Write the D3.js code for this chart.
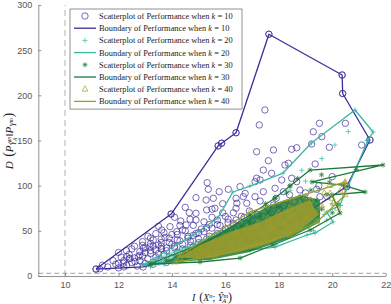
<!DOCTYPE html>
<head>
<meta charset="utf-8" />
<script src="https://d3js.org/d3.v7.min.js"></script>
<style>
  body { margin: 0; background: #fff; }
  text { font-family: "Liberation Sans", Arial, sans-serif; }
  .axis text { fill: #555; font-size: 9px; }
  .axis path, .axis line { stroke: #777; stroke-width: 0.8; }
  .tex { font-family: "Liberation Serif", "DejaVu Serif", serif; fill: #222; }
</style>
</head>
<body>
<div id="chart"></div>
<script>
// values (x = I, y = D)
const xTicks = [10, 12, 14, 16, 18, 20, 22];
const yTicks = [0, 50, 100, 150, 200, 250, 300];
const kValues = [10, 20, 30, 40];

const scatter10 = [
  [11.16,7.7],[13.97,68.6],[15.73,144],[15.86,147],[16.4,158.6],[17.63,267.6],[20.37,222.5],[20.39,202],[21.41,150.6],[20.54,98.9],[18.72,64.2],
  [17.48,183.8],[17.27,167.2],[19.52,169],[20.49,169],[19.29,159.7],[19.61,154.2],[19.23,146.1],[19.89,142.5],[21.1,145],[17.17,137.6],[17.8,139.5],
  [18.48,140.3],[18.67,142],[17.61,127.6],[18.23,122.9],[18.36,124.8],[19.36,124],[17.42,117.3],[17.73,113.7],[17.17,108.2],[18.48,108.2],[18.11,106.3],
  [18.67,104.4],[16.55,98.9],[17.11,104.4],[17.3,106.3],[17.86,97.1],[19.42,96],[18.79,95.2],[16.74,91.5],[17.42,93.3],[18.17,93.3],[18.98,84.1],
  [19.54,87.8],[16.67,87.8],[17.11,87.8],[16.43,80.5],[16.8,80.5],[17.8,78.6],[19.42,69.4],
  [15.32,103.3],[15.36,96],[15.77,93.3],[16.11,96],[14.9,86.7],[15.28,84.1],[15.55,86],[14.65,70.1],[14.9,69.4],[14.33,60.9],[14.53,56.5],[14.68,62.8],
  [15.3,73.1],[15.61,75],[13.62,50.9],[13.93,54.6],[14.18,49],[13.3,39.9],[13.74,42.8],[13.18,32.4],[12.93,30.7],[12.74,21.4],[12.43,19.6],[12.18,14.1],
  [12.62,15.8],[12.31,21.4],[13.49,34.3],
  [11.6,10],[11.9,13],[12.0,9],[12.2,17],[12.3,12],[12.4,24],[12.5,15],[12.6,20],[12.7,11],[12.8,27],[12.8,17],[12.9,22],[13.0,14],[13.0,31],[13.1,19],
  [13.2,25],[13.2,36],[13.3,13],[13.4,29],[13.4,21],[13.5,17],[13.6,33],[13.6,41],[13.7,24],[13.8,28],[13.8,15],[13.9,37],[14.0,20],[14.0,46],[14.1,31],
  [14.2,26],[14.2,40],[14.3,18],[14.4,35],[14.4,51],[14.5,29],[14.6,44],[14.6,22],[14.7,38],[14.8,56],[14.8,32],[14.9,26],[15.0,48],[15.0,41],[15.1,35],
  [15.2,60],[15.2,29],[15.3,53],[15.4,44],[15.4,38],[15.5,65],[15.6,33],[15.7,57],[15.7,47],[15.8,40],[15.9,70],[16.0,52],[16.0,36],[16.1,63],[16.2,44],
  [16.3,58],[16.4,75],[16.5,49],[16.6,66],[16.7,40],[16.8,55],[16.9,72],[17.0,61],[17.1,47],[17.2,68],[17.3,83],[17.4,57],[17.6,75],[17.7,64],[17.9,86],
  [18.0,70],[18.2,78],[18.4,90],[18.6,82],[18.8,74],[19.0,92],[19.2,80],[19.5,100],[19.8,88],[20.0,110],[11.3,8],[12.1,21],[12.9,34],[13.7,48],[14.3,56],
  [14.9,62],[15.5,74],[15.9,80],[16.4,86],[12.0,26],[12.5,30],[13.1,44],[13.5,55],[14.1,65],[14.5,76],
  [12.3,28],[12.6,33],[12.9,38],[13.2,42],[13.4,47],[13.0,26],[13.3,33],[13.6,37],[13.9,42],[14.2,46],[14.5,50],[14.8,45],[15.1,52],[15.4,57],[15.7,62],
  [16.0,66],[16.3,70],[14.0,35],[14.3,39],[14.6,42],[14.9,47],[15.2,49],[15.5,53],[15.8,56],[16.1,59],[16.4,62],[16.7,65],[13.5,25],[13.8,31],[14.1,33],
  [14.4,30],[14.7,34],[15.0,37],[15.3,41],[15.6,44],[15.9,47],[16.2,51],[16.5,55],[16.8,58],[17.1,62],[17.4,66],[17.7,70],[18.0,74],[12.0,14],[12.4,19],
  [12.8,23],[13.2,28],[13.6,30],[11.8,17],[12.2,10],[11.4,12]
];
const boundary10 = [
  [11.16,7.7],[13.97,68.6],[15.73,144],[15.86,147],[16.4,158.6],[17.63,267.6],[20.37,222.5],[20.39,202],[21.41,150.6],[20.54,98.9],[18.72,64.2],
  [17.3,42],[15.05,23.2],[12.92,10]
];

const scatter20 = [
  [13.0,12],[13.3,16],[13.5,14],[13.6,20],[13.8,18],[13.9,24],[14.0,15],[14.1,22],[14.2,28],[14.3,19],[14.4,25],[14.5,32],[14.6,21],[14.7,28],[14.8,36],
  [14.9,24],[15.0,31],[15.1,40],[15.2,27],[15.3,35],[15.4,44],[15.5,30],[15.6,38],[15.7,48],[15.8,33],[15.9,42],[16.0,52],[16.1,37],[16.2,46],[16.3,56],
  [16.5,41],[16.6,50],[16.8,60],[16.9,45],[17.0,55],[17.2,65],[17.3,49],[17.5,58],[17.7,70],[17.9,53],[18.1,64],[18.3,76],[18.5,58],[18.7,70],[18.9,85],
  [19.1,62],[19.3,75],[19.5,95],[19.7,68],[20.0,80],[18.86,117],[19.61,130],[18.42,95],[20.1,145],[19.0,105],[20.6,160],[21.3,150],[20.3,78],[19.8,62],
  [19.3,50],[17.9,35],[16.9,30],[13.2,10],[13.7,13],[14.2,16],[14.7,19],[15.2,21],[15.7,24],[16.2,27],[16.7,29],[17.2,33],[17.7,37]
];
const boundary20 = [
  [12.92,12.2],[14.79,45.4],[15.72,64.2],[16.28,93],[16.92,99.6],[18.16,114],[19.22,147.2],[20.85,183.8],[21.53,159.4],[21.34,150.5],[20.29,78.5],
  [19.8,70.8],[20.03,59.8],[19.36,47.6],[19.06,45.4],[17.86,32],[16.92,28.8],[15.05,19.9],[13.55,14.4]
];
const core20 = [
  [12.81,11.1],[13.93,26.6],[15.05,39.9],[16.17,53.1],[16.92,59.8],[17.3,39.9],[16.17,26.6],[14.68,17.7],[13.55,12.2]
];

const scatter30 = [
  [13.2,13],[13.8,17],[14.2,22],[14.5,18],[14.8,28],[15.0,22],[15.2,33],[15.4,27],[15.6,38],[15.8,30],[16.0,44],[16.1,35],[16.3,50],[16.4,40],[16.6,55],
  [16.7,45],[16.9,60],[17.0,38],[17.1,50],[17.3,66],[17.4,55],[17.6,70],[17.7,44],[17.8,60],[18.0,76],[18.1,52],[18.2,66],[18.4,82],[18.5,58],[18.6,72],
  [18.8,88],[18.9,63],[19.0,78],[19.2,95],[19.3,68],[19.4,84],[19.6,74],[19.8,90],[20.0,70],[20.2,80],[18.42,100],[17.86,86],[16.92,67.5],[18.7,108],
  [19.6,112],[18.3,92],[17.5,80],[19.9,104],[20.9,118]
];
const boundary30 = [
  [13.18,13.3],[15.43,39.8],[16.92,67.5],[17.86,86.3],[18.42,99.6],[19.17,117.3],[21.9,122.9],[19.24,104.1],[20.4,100.7],[21.23,93],[19.99,89.7],
  [20.29,69.7],[19.17,50.9],[17.78,34.3],[16.55,19.9],[15.05,15.5]
];
const core30 = [
  [13.74,15.5],[15.05,36.5],[16.55,59.8],[17.67,78.6],[18.79,89.7],[19.54,84.1],[19.54,59.8],[18.42,42.1],[16.92,26.6],[15.43,17.7]
];

const scatter40 = [
  [14.3,20],[14.6,24],[14.9,22],[15.1,30],[15.3,26],[15.6,36],[15.8,30],[16.0,42],[16.2,34],[16.4,48],[16.6,38],[16.8,54],[17.0,44],[17.2,58],[17.4,48],
  [17.6,64],[17.8,52],[18.0,70],[18.2,58],[18.4,75],[18.6,62],[18.8,80],[19.0,66],[19.2,84],[19.4,70],[19.6,78],[20.0,86],[20.3,94],[19.9,100],[20.2,75],
  [19.7,92],[19.0,88],[18.5,84],[19.92,91.5],[20.48,102.6],[20.04,80.5],[19.61,75]
];
const boundary40 = [
  [14.12,15.5],[14.3,23.2],[16.92,70.9],[20.48,104.1],[20.48,89.7],[19.43,59.8],[18.42,45.4],[17.11,34.3],[15.61,22.1]
];
const core40 = [
  [14.23,19.9],[15.05,34.3],[16.17,48.7],[17.3,59.8],[18.42,75.3],[19.17,84.1],[19.47,67.5],[18.79,50.9],[17.67,36.5],[16.55,26.6],[15.24,19.9]
];

const refX = 10;   // vertical dashed line
const refY = 3;    // horizontal dashed line

const colors = ["#3d2c9b", "#3ab6a2", "#1d7b38", "#a19c2b"];
const markers = ["circle", "plus", "star", "triangle"];

const W = 391, H = 304;
const svg = d3.select("#chart").append("svg").attr("width", W).attr("height", H);

const x = d3.scaleLinear().domain([9, 22]).range([38.3, 385.7]);
const y = d3.scaleLinear().domain([0, 300]).range([276, 5]);

svg.append("clipPath").attr("id", "plotclip").append("rect")
  .attr("x", x(9)).attr("y", y(300)).attr("width", x(22) - x(9)).attr("height", y(0) - y(300));

const plot = svg.append("g").attr("clip-path", "url(#plotclip)");

// reference lines
plot.append("line")
  .attr("x1", x(refX)).attr("x2", x(refX)).attr("y1", y(0)).attr("y2", y(300))
  .attr("stroke", "#c8c8c8").attr("stroke-width", 1.4).attr("stroke-dasharray", "6,4");
plot.append("line")
  .attr("x1", x(9)).attr("x2", x(22)).attr("y1", y(refY)).attr("y2", y(refY))
  .attr("stroke", "#8a8a8a").attr("stroke-width", 0.8).attr("stroke-dasharray", "5,3");

function drawMarker(g, type, color) {
  if (type === "circle") {
    g.append("circle").attr("r", 3.2).attr("fill", "none").attr("stroke", color).attr("stroke-width", 0.7);
  } else if (type === "plus") {
    g.append("path").attr("d", "M-2.6,0H2.6M0,-2.6V2.6").attr("stroke", color).attr("stroke-width", 0.7);
  } else if (type === "star") {
    g.append("path").attr("d", "M-2.6,0H2.6M0,-2.6V2.6M-1.9,-1.9L1.9,1.9M-1.9,1.9L1.9,-1.9")
      .attr("stroke", color).attr("stroke-width", 0.7);
  } else {
    g.append("path").attr("d", "M0,-3.4L3,1.9H-3Z").attr("fill", "none").attr("stroke", color).attr("stroke-width", 0.7);
  }
}

const line = d3.line().x(d => x(d[0])).y(d => y(d[1]));

const series = [
  { pts: scatter10, hull: boundary10, core: null },
  { pts: scatter20, hull: boundary20, core: core20 },
  { pts: scatter30, hull: boundary30, core: core30 },
  { pts: scatter40, hull: boundary40, core: core40 }
];

series.forEach(function(s, i) {
  if (s.core) {
    plot.append("path").attr("d", line(s.core) + "Z")
      .attr("fill", colors[i]).attr("fill-opacity", i === 1 ? 0.45 : 0.85).attr("stroke", "none");
  }
  const pts = s.pts.concat(s.hull);
  plot.selectAll(".m" + i).data(pts).enter().append("g")
    .attr("class", "m" + i)
    .attr("transform", d => "translate(" + x(d[0]) + "," + y(d[1]) + ")")
    .each(function() { drawMarker(d3.select(this), markers[i], colors[i]); });
  plot.append("path").attr("d", line(s.hull.concat([s.hull[0]])))
    .attr("fill", "none").attr("stroke", colors[i]).attr("stroke-width", 1.3).attr("stroke-linejoin", "round");
});

// axes
svg.append("g").attr("class", "axis").attr("transform", "translate(0," + y(0) + ")")
  .call(d3.axisBottom(x).tickValues(xTicks).tickSizeInner(-3).tickSizeOuter(0).tickPadding(6));
svg.append("g").attr("class", "axis").attr("transform", "translate(" + x(9) + ",0)")
  .call(d3.axisLeft(y).tickValues(yTicks).tickSizeInner(-3).tickSizeOuter(0).tickPadding(6));

// axis titles
function tex(parent, parts) {
  parts.forEach(function(p) {
    const t = parent.append("tspan").text(p.t);
    if (p.i) t.attr("font-style", "italic");
    if (p.s) t.attr("font-size", p.s);
    if (p.dy) t.attr("dy", p.dy);
    if (p.dx) t.attr("dx", p.dx);
  });
}
const xl = svg.append("text").attr("class", "tex").attr("x", 212).attr("y", 300.5)
  .attr("text-anchor", "middle").attr("font-size", 10);
tex(xl, [
  { t: "I", i: 1 }, { t: " (", s: 12, dx: 1 }, { t: "X", i: 1 }, { t: "n", i: 1, s: 6.5, dy: -3 },
  { t: ";", dy: 3 }, { t: " Y\u0302", i: 1 }, { t: "m", i: 1, s: 6.5, dy: -3 }, { t: "A", i: 1, s: 6.5, dy: 5.5, dx: -6 },
  { t: ")", s: 12, dy: -2.5, dx: 2 }
]);
const yl = svg.append("text").attr("class", "tex").attr("transform", "translate(13,141) rotate(-90)")
  .attr("text-anchor", "middle").attr("font-size", 11);
tex(yl, [
  { t: "D", i: 1 }, { t: " (", s: 14, dx: 1 }, { t: "P", i: 1 }, { t: "Y\u0302", i: 1, s: 8, dy: 3 },
  { t: "m", i: 1, s: 5.5, dy: -5 }, { t: "A", i: 1, s: 5.5, dy: 6, dx: -4 }, { t: "\u2016", dy: -4, dx: 1 },
  { t: "P", i: 1 }, { t: "Y", i: 1, s: 8, dy: 3 }, { t: "m", i: 1, s: 5.5, dy: -3 }, { t: ")", s: 14, dy: 0, dx: 1 }
]);

// legend
const legX = 70, legY = 9, legW = 172, rowH = 12.2;
const lg = svg.append("g");
lg.append("rect").attr("x", legX).attr("y", legY).attr("width", legW).attr("height", rowH * 8 + 2.5)
  .attr("fill", "#fff").attr("stroke", "#777").attr("stroke-width", 0.8);
kValues.forEach(function(k, i) {
  const yS = legY + 7 + rowH * (2 * i);
  const yB = yS + rowH;
  const gm = lg.append("g").attr("transform", "translate(" + (legX + 15) + "," + yS + ")");
  drawMarker(gm, markers[i], colors[i]);
  lg.append("line").attr("x1", legX + 4).attr("x2", legX + 26).attr("y1", yB).attr("y2", yB)
    .attr("stroke", colors[i]).attr("stroke-width", 1.3);
  [["Scatterplot of Performance when ", yS], ["Boundary of Performance when ", yB]].forEach(function(r) {
    const t = lg.append("text").attr("class", "tex").attr("x", legX + 29).attr("y", r[1] + 2.9).attr("font-size", 8.4);
    tex(t, [{ t: r[0] }, { t: "k", i: 1 }, { t: " = " + k }]);
  });
});
</script>
</body>
